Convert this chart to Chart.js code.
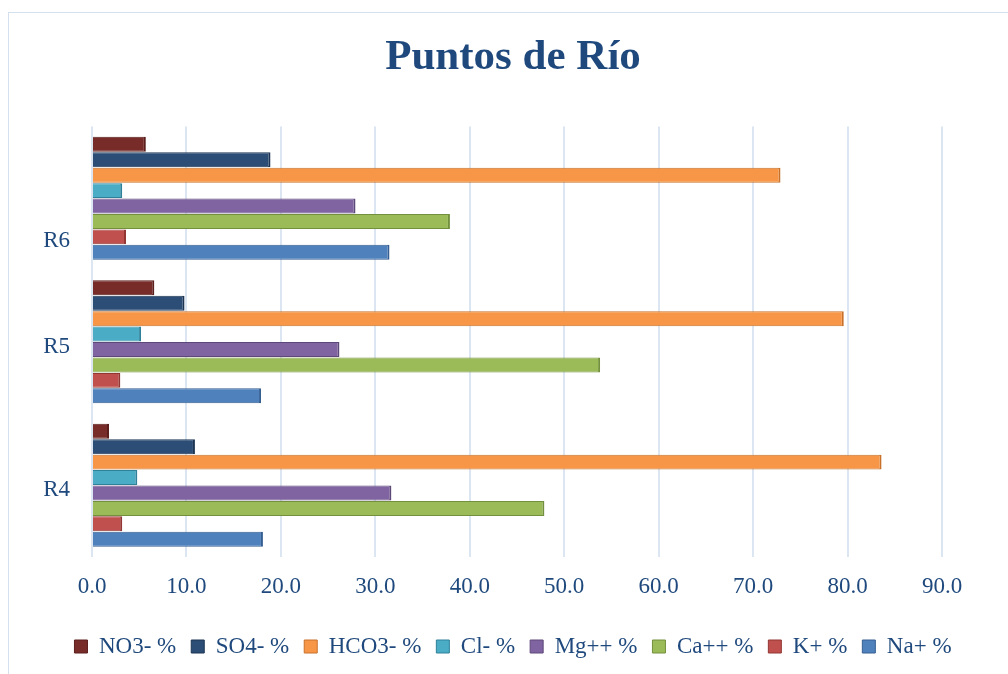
<!DOCTYPE html>
<html>
<head>
<meta charset="utf-8">
<script src="https://cdn.jsdelivr.net/npm/chart.js@4.4.1/dist/chart.umd.min.js"></script>
<style>
  html, body { margin: 0; padding: 0; background: #fff; }
  #frame {
    position: absolute; left: 8px; top: 12px; width: 1020px; height: 680px;
    border: 1px solid #D5E0EE; box-sizing: border-box;
  }
  #wrap { position: absolute; left: 0; top: 0; width: 1008px; height: 674px; }
</style>
</head>
<body>
<div id="frame"></div>
<div id="wrap"><canvas id="chart" width="1008" height="674"></canvas></div>
<script>
// Puntos de Río — porcentajes iónicos por punto
const puntos = ['R6', 'R5', 'R4'];
const xTicks = [0, 10, 20, 30, 40, 50, 60, 70, 80, 90];

const no3  = [5.7, 6.6, 1.8];
const so4  = [18.9, 9.8, 10.9];
const hco3 = [72.9, 79.6, 83.6];
const cl   = [3.2, 5.2, 4.8];
const mg   = [27.9, 26.2, 31.7];
const ca   = [37.9, 53.8, 47.9];
const k    = [3.6, 3.0, 3.2];
const na   = [31.5, 17.9, 18.1];

const FONT = '"Liberation Serif", "Times New Roman", serif';
const TXT = '#1F497D';

function serie(label, data, color, edge) {
  return {
    label, data,
    backgroundColor: color,
    borderColor: edge,
    borderWidth: { top: 1, right: 2, bottom: 1, left: 0 },
    borderSkipped: false,
    categoryPercentage: 0.86,
    barPercentage: 0.97
  };
}

const datasets = [
  serie('NO3- %',  no3,  '#772C2A', '#5A1E1C'),
  serie('SO4- %',  so4,  '#2C4D75', '#1D3553'),
  serie('HCO3- %', hco3, '#F79646', '#C8712B'),
  serie('Cl- %',   cl,   '#4BACC6', '#2F8199'),
  serie('Mg++ %',  mg,   '#8064A2', '#5E4879'),
  serie('Ca++ %',  ca,   '#9BBB59', '#73903C'),
  serie('K+ %',    k,    '#C0504D', '#923734'),
  serie('Na+ %',   na,   '#4F81BD', '#365F91')
];

new Chart(document.getElementById('chart'), {
  type: 'bar',
  data: { labels: puntos, datasets },
  options: {
    indexAxis: 'y',
    responsive: false,
    animation: false,
    layout: { padding: { left: 30, right: 12, top: 0, bottom: 6 } },
    plugins: {
      title: {
        display: true,
        text: 'Puntos de Río',
        color: TXT,
        font: { family: FONT, size: 43, weight: 'bold' },
        padding: { top: 32, bottom: 43 }
      },
      legend: {
        position: 'bottom',
        labels: {
          color: TXT,
          font: { family: FONT, size: 23 },
          boxWidth: 13,
          boxHeight: 13,
          padding: 15
        }
      },
      tooltip: { enabled: false }
    },
    scales: {
      x: {
        min: 0, max: 90,
        afterBuildTicks: s => { s.ticks = xTicks.map(v => ({ value: v })); },
        afterFit: s => { s.height = 63; },
        grid: { color: '#DCE6F2', lineWidth: 2, drawTicks: false },
        border: { display: false },
        ticks: {
          color: TXT,
          padding: 16,
          font: { family: FONT, size: 23 },
          maxRotation: 0,
          callback: v => v.toFixed(1)
        }
      },
      y: {
        afterFit: s => { s.width = 62; },
        grid: { display: false, drawTicks: false },
        border: { display: false },
        ticks: {
          color: TXT,
          padding: 22,
          labelOffset: 5,
          font: { family: FONT, size: 23, lineHeight: 1.1 },
          // en el original la etiqueta R6 queda más abajo que el centro del grupo
          callback: (v, i) => i === 0 ? ['', '', '', puntos[i]] : puntos[i]
        }
      },
      // espacio vacío a la derecha, como en el original
      yRight: {
        type: 'category',
        position: 'right',
        afterFit: s => { s.width = 54; },
        grid: { display: false, drawTicks: false },
        border: { display: false },
        ticks: { display: false }
      }
    }
  }
});
</script>
</body>
</html>
